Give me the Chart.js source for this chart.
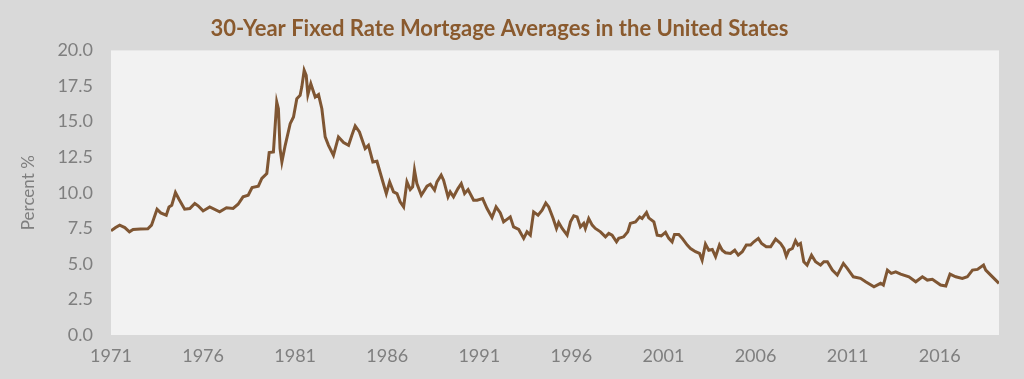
<!DOCTYPE html>
<html>
<head>
<meta charset="utf-8">
<script src="https://cdn.jsdelivr.net/npm/chart.js@4"></script>
<style>
  html, body { margin: 0; padding: 0; background: #d9d9d9; }
  #wrap { width: 1024px; height: 379px; }
</style>
</head>
<body>
<div id="wrap"><canvas id="mortgageChart" width="1024" height="379"></canvas></div>
<script>
// decimal year of each reading
const dates = [
  1971.30, 1971.55, 1971.77, 1972.05, 1972.30, 1972.50, 1972.90, 1973.30, 1973.50, 1973.80,
  1974.00, 1974.30, 1974.45, 1974.60, 1974.80, 1975.00, 1975.30, 1975.58, 1975.85, 1976.03,
  1976.30, 1976.66, 1977.20, 1977.57, 1977.93, 1978.20, 1978.47, 1978.75, 1978.96, 1979.30,
  1979.49, 1979.76, 1979.89, 1980.12, 1980.30, 1980.39, 1980.48, 1980.58, 1980.76, 1981.03,
  1981.21, 1981.39, 1981.57, 1981.66, 1981.79, 1981.90, 1981.99, 1982.15, 1982.39, 1982.57,
  1982.75, 1982.93, 1983.11, 1983.38, 1983.65, 1983.93, 1984.20, 1984.38, 1984.56, 1984.79,
  1985.10, 1985.28, 1985.52, 1985.74, 1986.01, 1986.25, 1986.43, 1986.64, 1986.83, 1987.00,
  1987.19, 1987.37, 1987.55, 1987.68, 1987.78, 1987.91, 1988.15, 1988.46, 1988.64, 1988.87,
  1989.00, 1989.23, 1989.36, 1989.60, 1989.72, 1989.90, 1990.14, 1990.32, 1990.50, 1990.69,
  1990.99, 1991.18, 1991.48, 1991.72, 1991.99, 1992.21, 1992.44, 1992.62, 1992.98, 1993.16,
  1993.44, 1993.71, 1993.89, 1994.07, 1994.25, 1994.49, 1994.71, 1994.91, 1995.07, 1995.31,
  1995.49, 1995.61, 1995.80, 1996.07, 1996.25, 1996.43, 1996.61, 1996.79, 1996.97, 1997.06,
  1997.24, 1997.43, 1997.60, 1997.88, 1998.15, 1998.33, 1998.51, 1998.75, 1998.87, 1999.14,
  1999.36, 1999.50, 1999.78, 2000.01, 2000.14, 2000.38, 2000.50, 2000.78, 2000.96, 2001.18,
  2001.41, 2001.59, 2001.77, 2001.90, 2002.13, 2002.32, 2002.59, 2002.77, 2003.04, 2003.26,
  2003.40, 2003.58, 2003.76, 2003.95, 2004.13, 2004.34, 2004.49, 2004.67, 2004.94, 2005.17,
  2005.36, 2005.58, 2005.80, 2006.03, 2006.21, 2006.45, 2006.63, 2006.88, 2007.12, 2007.39,
  2007.66, 2007.84, 2007.97, 2008.11, 2008.30, 2008.47, 2008.60, 2008.74, 2008.92, 2009.10,
  2009.34, 2009.56, 2009.83, 2010.01, 2010.20, 2010.47, 2010.74, 2011.07, 2011.28, 2011.61,
  2012.00, 2012.28, 2012.73, 2013.09, 2013.24, 2013.46, 2013.67, 2013.91, 2014.18, 2014.63,
  2015.00, 2015.36, 2015.63, 2015.90, 2016.35, 2016.63, 2016.86, 2017.17, 2017.53, 2017.80,
  2018.08, 2018.35, 2018.68, 2018.80, 2019.07, 2019.52
];

// 30-year fixed rate, percent
const rates = [
  7.32, 7.55, 7.72, 7.55, 7.25, 7.42, 7.45, 7.46, 7.72, 8.84,
  8.58, 8.42, 9.00, 9.12, 10.01, 9.52, 8.84, 8.89, 9.24, 9.08,
  8.72, 9.00, 8.66, 8.94, 8.89, 9.19, 9.71, 9.82, 10.36, 10.46,
  11.00, 11.35, 12.82, 12.87, 16.37, 15.90, 13.10, 12.16, 13.33, 14.85,
  15.32, 16.61, 16.84, 17.42, 18.60, 18.25, 16.89, 17.66, 16.72, 16.89,
  15.90, 13.92, 13.33, 12.63, 13.92, 13.52, 13.33, 14.04, 14.69, 14.27,
  13.10, 13.33, 12.16, 12.21, 11.00, 9.94, 10.76, 10.06, 9.94, 9.36,
  9.00, 10.76, 10.22, 10.41, 11.58, 10.64, 9.82, 10.46, 10.60, 10.18,
  10.76, 11.23, 10.88, 9.71, 10.06, 9.71, 10.29, 10.64, 9.94, 10.22,
  9.47, 9.47, 9.59, 8.89, 8.26, 9.00, 8.58, 7.95, 8.30, 7.60,
  7.42, 6.79, 7.25, 7.02, 8.65, 8.42, 8.77, 9.27, 9.00, 8.19,
  7.49, 7.91, 7.49, 7.02, 7.95, 8.37, 8.30, 7.60, 7.84, 7.49,
  8.19, 7.72, 7.49, 7.25, 6.90, 7.14, 7.02, 6.55, 6.79, 6.90,
  7.25, 7.84, 7.95, 8.30, 8.19, 8.61, 8.23, 7.95, 7.02, 6.97,
  7.21, 6.79, 6.55, 7.07, 7.07, 6.79, 6.32, 6.08, 5.85, 5.73,
  5.26, 6.39, 5.96, 6.01, 5.50, 6.32, 5.96, 5.78, 5.73, 5.96,
  5.61, 5.85, 6.32, 6.32, 6.55, 6.79, 6.43, 6.20, 6.20, 6.74,
  6.43, 6.08, 5.54, 5.96, 6.08, 6.62, 6.32, 6.43, 5.15, 4.91,
  5.61, 5.15, 4.91, 5.15, 5.15, 4.56, 4.21, 5.03, 4.68, 4.09,
  3.98, 3.74, 3.39, 3.63, 3.51, 4.56, 4.33, 4.44, 4.28, 4.09,
  3.74, 4.09, 3.86, 3.91, 3.51, 3.44, 4.28, 4.09, 3.98, 4.09,
  4.56, 4.61, 4.91, 4.56, 4.21, 3.63
];

// labels every five years, starting at the first reading
const tickLabels = ['1971', '1976', '1981', '1986', '1991', '1996', '2001', '2006', '2011', '2016'];
const yTicks = [0, 2.5, 5, 7.5, 10, 12.5, 15, 17.5, 20];

const brown = '#7f5633';
const grey = '#7f7f7f';

const points = dates.map((d, i) => ({ x: d, y: rates[i] }));
const tickPos = tickLabels.map((t, i) => dates[0] + i * 5);

const plotBg = {
  id: 'plotBg',
  beforeDraw(chart) {
    const { ctx, chartArea: a } = chart;
    ctx.save();
    ctx.fillStyle = '#d9d9d9';
    ctx.fillRect(0, 0, chart.width, chart.height);
    ctx.fillStyle = '#f2f2f2';
    ctx.fillRect(a.left, a.top, a.right - a.left, a.bottom - a.top);
    ctx.restore();
  }
};

new Chart(document.getElementById('mortgageChart'), {
  type: 'line',
  data: {
    datasets: [{
      label: '30-Year FRM',
      data: points,
      borderColor: brown,
      borderWidth: 3,
      pointRadius: 0,
      tension: 0,
      fill: false
    }]
  },
  options: {
    responsive: false,
    animation: false,
    layout: { padding: { left: 0, right: 25, top: 0, bottom: 0 } },
    plugins: {
      legend: { display: false },
      tooltip: { enabled: false },
      title: {
        display: true,
        text: '30-Year Fixed Rate Mortgage Averages in the United States',
        color: '#8a5a2e',
        font: { family: 'Lato', size: 22, weight: 'bold' },
        padding: { top: 16, bottom: 8 }
      }
    },
    scales: {
      x: {
        type: 'linear',
        min: dates[0],
        max: dates[dates.length - 1],
        grid: { display: false, drawTicks: false },
        border: { display: false },
        afterBuildTicks(scale) {
          scale.ticks = tickPos.map(v => ({ value: v }));
        },
        afterFit(scale) { scale.height = 44; },
        ticks: {
          color: grey,
          font: { family: 'Lato', size: 18 },
          padding: 10,
          maxRotation: 0,
          autoSkip: false,
          callback(value, index) { return tickLabels[index]; }
        }
      },
      y: {
        min: 0,
        max: 20,
        grid: { display: false, drawTicks: false },
        border: { display: false },
        afterBuildTicks(scale) {
          scale.ticks = yTicks.map(v => ({ value: v }));
        },
        afterFit(scale) { scale.width = 111; },
        ticks: {
          color: grey,
          font: { family: 'Lato', size: 18 },
          padding: 18,
          callback(value) { return value.toFixed(1); }
        },
        title: {
          display: true,
          text: 'Percent %',
          color: grey,
          font: { family: 'Lato', size: 17 },
          padding: { top: 18, bottom: 0 }
        }
      }
    }
  },
  plugins: [plotBg]
});
</script>
</body>
</html>
